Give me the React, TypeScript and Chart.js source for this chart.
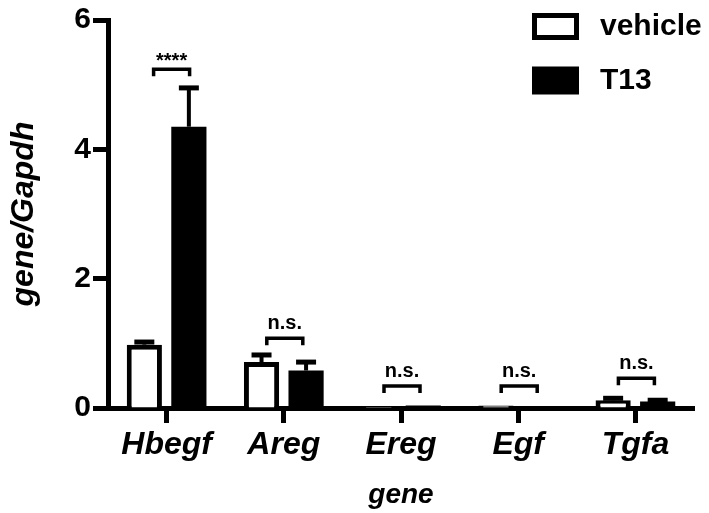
import React, { useEffect, useRef } from 'react';
import { Chart, registerables } from 'chart.js';

Chart.register(...registerables);

const FONT = '"Liberation Sans", Arial, Helvetica, sans-serif';

const genes = ['Hbegf', 'Areg', 'Ereg', 'Egf', 'Tgfa'];
const seriesNames = ['vehicle', 'T13'];
const vehicleMean = [0.98, 0.71, 0.02, 0.04, 0.12];
const vehicleSEM = [0.04, 0.11, 0, 0, 0.03];
const t13Mean = [4.35, 0.58, 0.04, 0.03, 0.1];
const t13SEM = [0.6, 0.13, 0, 0, 0.02];
const sigLabels = ['****', 'n.s.', 'n.s.', 'n.s.', 'n.s.'];
const sigLevels = [5.24, 1.08, 0.34, 0.34, 0.46];
const yTicks = [0, 2, 4, 6];

const overlay = {
  id: 'overlay',
  afterDatasetsDraw(chart: any) {
    const ctx = chart.ctx;
    const xs = chart.scales.x;
    const ys = chart.scales.y;
    ctx.save();
    ctx.strokeStyle = '#000';
    ctx.fillStyle = '#000';
    const means = [vehicleMean, t13Mean];
    const errs = [vehicleSEM, t13SEM];
    chart.data.datasets.forEach((_ds: any, di: number) => {
      const meta = chart.getDatasetMeta(di);
      meta.data.forEach((bar: any, i: number) => {
        const e = errs[di][i];
        if (!e) return;
        const top = ys.getPixelForValue(means[di][i] + e);
        ctx.lineWidth = 4;
        ctx.beginPath();
        ctx.moveTo(bar.x, bar.y);
        ctx.lineTo(bar.x, top);
        ctx.stroke();
        ctx.lineWidth = 5;
        ctx.beginPath();
        ctx.moveTo(bar.x - 10, top);
        ctx.lineTo(bar.x + 10, top);
        ctx.stroke();
      });
    });
    // significance brackets
    sigLabels.forEach((lab, i) => {
      const stars = lab.indexOf('*') >= 0;
      const cx = xs.getPixelForValue(i) + (stars ? 5 : 1);
      const yt = ys.getPixelForValue(sigLevels[i]);
      ctx.lineWidth = 3.5;
      ctx.lineJoin = 'miter';
      ctx.beginPath();
      ctx.moveTo(cx - 18, yt + 7);
      ctx.lineTo(cx - 18, yt);
      ctx.lineTo(cx + 18, yt);
      ctx.lineTo(cx + 18, yt + 7);
      ctx.stroke();
      ctx.font = 'bold 20px ' + FONT;
      ctx.textAlign = 'center';
      ctx.textBaseline = 'alphabetic';
      ctx.fillText(lab, cx, stars ? yt - 2 : yt - 9);
    });
    // legend
    const lx = 532;
    seriesNames.forEach((name, i) => {
      const top = 13 + i * 53.5;
      if (i === 0) {
        ctx.fillStyle = '#fff';
        ctx.fillRect(lx, top, 47, 27);
        ctx.lineWidth = 5;
        ctx.strokeRect(lx + 2.5, top + 2.5, 42, 22);
      } else {
        ctx.fillStyle = '#000';
        ctx.fillRect(lx, top, 47, 28);
      }
      ctx.fillStyle = '#000';
      ctx.font = 'bold 30px ' + FONT;
      ctx.textAlign = 'left';
      ctx.textBaseline = 'middle';
      ctx.fillText(name, 600, top + 14);
    });
    ctx.restore();
  },
};

export default function App() {
  const ref = useRef<HTMLCanvasElement>(null);
  useEffect(() => {
    if (!ref.current) return;
    const chart = new Chart(ref.current, {
      type: 'bar',
      data: {
        labels: genes,
        datasets: [
          {
            label: seriesNames[0],
            data: vehicleMean,
            backgroundColor: '#fff',
            borderColor: '#000',
            borderWidth: 5,
            categoryPercentage: 0.76,
            barPercentage: 0.79,
          },
          {
            label: seriesNames[1],
            data: t13Mean,
            backgroundColor: '#000',
            borderColor: '#000',
            borderWidth: 0,
            categoryPercentage: 0.76,
            barPercentage: 0.79,
          },
        ],
      },
      options: {
        responsive: false,
        animation: false,
        layout: { padding: { top: 20, right: 15, left: 0, bottom: 0 } },
        plugins: { legend: { display: false }, tooltip: { enabled: false } },
        scales: {
          x: {
            type: 'category',
            offset: true,
            z: 1,
            grid: {
              display: true,
              drawOnChartArea: false,
              drawTicks: true,
              tickLength: 15,
              tickWidth: 5,
              tickColor: '#000',
              offset: false,
            },
            border: { display: true, color: '#000', width: 5 },
            ticks: {
              color: '#000',
              font: { family: FONT, size: 32, style: 'italic', weight: 'bold' },
              padding: 3,
              maxRotation: 0,
              autoSkip: false,
            },
            title: {
              display: true,
              text: 'gene',
              color: '#000',
              font: { family: FONT, size: 28, style: 'italic', weight: 'bold' },
              padding: { top: 0, bottom: 1 },
            },
            afterFit(s: any) {
              s.height = 105;
            },
          },
          y: {
            min: 0,
            max: 6,
            z: 1,
            grid: {
              display: true,
              drawOnChartArea: false,
              drawTicks: true,
              tickLength: 15,
              tickWidth: 5,
              tickColor: '#000',
            },
            border: { display: true, color: '#000', width: 5 },
            ticks: {
              color: '#000',
              font: { family: FONT, size: 30, weight: 'bold' },
              padding: 2,
            },
            afterBuildTicks(s: any) {
              s.ticks = yTicks.map((v) => ({ value: v }));
            },
            title: {
              display: true,
              text: 'gene/Gapdh',
              color: '#000',
              font: { family: FONT, size: 32, style: 'italic', weight: 'bold' },
              padding: { top: 5, bottom: 5 },
            },
            afterFit(s: any) {
              s.width = 108;
            },
          },
        },
      },
      plugins: [overlay],
    } as any);
    return () => chart.destroy();
  }, []);
  return (
    <div style={{ position: 'absolute', left: 0, top: 0, width: 709, height: 513, background: '#fff' }}>
      <canvas ref={ref} width={709} height={513} />
    </div>
  );
}
